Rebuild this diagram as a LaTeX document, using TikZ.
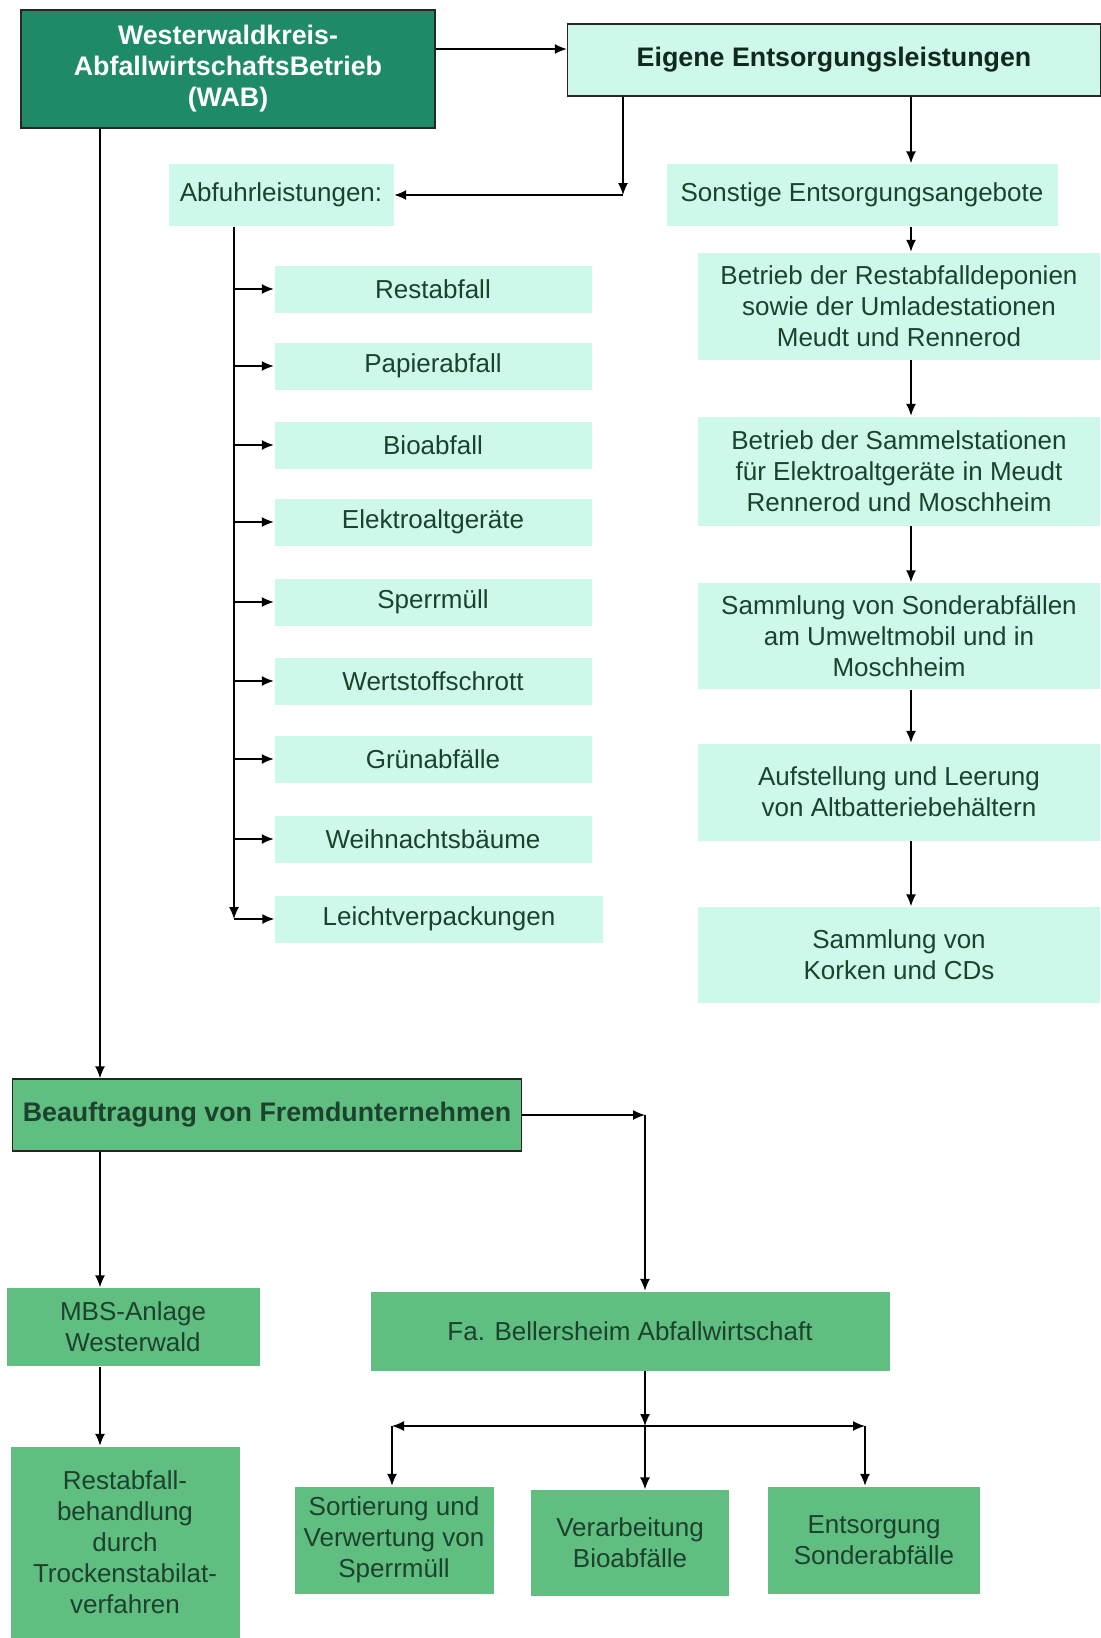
\documentclass[tikz,border=0pt]{standalone}
\usepackage{fontspec}
\setmainfont{Liberation Sans}
\usetikzlibrary{arrows.meta, calc, positioning}
\definecolor{wabGreen}{RGB}{30,138,104}
\definecolor{mintFill}{RGB}{206,248,234}
\definecolor{midGreen}{RGB}{96,190,128}
\definecolor{txtGreen}{RGB}{28,66,46}
\newcommand{\boxfont}{\fontsize{13}{15.5}\selectfont}
\newcommand{\headfont}{\fontsize{13.4}{15.5}\selectfont\bfseries}
\tikzset{
  wabbox/.style={draw=black!85, fill=wabGreen, text=white, font=\headfont,
                 align=center, inner sep=0pt},
  headbox/.style={draw=black!85, fill=mintFill, text=txtGreen!60!black,
                  font=\headfont, align=center, inner sep=0pt},
  mintbox/.style={fill=mintFill, text=txtGreen, font=\boxfont, align=center, inner sep=0pt},
  greenbox/.style={fill=midGreen, text=txtGreen, font=\boxfont, align=center, inner sep=0pt},
  flow/.style={-{Latex[length=6pt, width=5pt]}},
  twoway/.style={{Latex[length=6pt, width=5pt]}-{Latex[length=6pt, width=5pt]}},
}

\begin{document}
\begin{tikzpicture}[x=0.5pt, y=-0.5pt, line width=0.7pt]
  \useasboundingbox (0,0) rectangle (1100,1638);
  % ================= top: WAB and own services =================
  \node[wabbox, minimum width=207pt, minimum height=59pt] (wab) at (228,69)
    {Westerwaldkreis-\\AbfallwirtschaftsBetrieb\\(WAB)};
  \node[headbox, minimum width=266.5pt, minimum height=36pt] (eig) at (834,60)
    {Eigene Entsorgungsleistungen};
  \node[mintbox, minimum width=112.5pt, minimum height=31pt] (abf) at (281,195)
    {Abfuhrleistungen:};
  \node[mintbox, minimum width=195.5pt, minimum height=31pt] (son) at (862,195)
    {Sonstige Entsorgungsangebote};
  \draw[flow] ([yshift=10pt]wab.east) -- ([yshift=5.5pt]eig.west);
  \coordinate (ek) at (623,195);
  \draw[flow] (eig.south -| ek) -- (ek);
  \draw[flow] (ek) -- (abf.east);
  % ================= left column: collection services =================
  \node[mintbox, minimum width=158.5pt, minimum height=23.5pt] (rest)   at (433,289) {Restabfall};
  \node[mintbox, minimum width=158.5pt, minimum height=23.5pt] (pap)    at (433,366) {Papierabfall};
  \node[mintbox, minimum width=158.5pt, minimum height=23.5pt] (bio)    at (433,445) {Bioabfall};
  \node[mintbox, minimum width=158.5pt, minimum height=23.5pt] (elek)   at (433,522) {Elektroaltgeräte};
  \node[mintbox, minimum width=158.5pt, minimum height=23.5pt] (sperr)  at (433,602) {Sperrmüll};
  \node[mintbox, minimum width=158.5pt, minimum height=23.5pt] (wert)   at (433,681) {Wertstoffschrott};
  \node[mintbox, minimum width=158.5pt, minimum height=23.5pt] (gruen)  at (433,759) {Grünabfälle};
  \node[mintbox, minimum width=158.5pt, minimum height=23.5pt] (weih)   at (433,839) {Weihnachtsbäume};
  \node[mintbox, minimum width=164pt, minimum height=23.5pt]   (leicht) at (439,919) {Leichtverpackungen};
  \coordinate (spine) at (234,0);
  \draw[flow] (abf.south -| spine) -- (spine |- leicht.west);
  \draw[flow] (spine |- rest.west)   -- (rest.west);
  \draw[flow] (spine |- pap.west)    -- (pap.west);
  \draw[flow] (spine |- bio.west)    -- (bio.west);
  \draw[flow] (spine |- elek.west)   -- (elek.west);
  \draw[flow] (spine |- sperr.west)  -- (sperr.west);
  \draw[flow] (spine |- wert.west)   -- (wert.west);
  \draw[flow] (spine |- gruen.west)  -- (gruen.west);
  \draw[flow] (spine |- weih.west)   -- (weih.west);
  \draw[flow] (spine |- leicht.west) -- (leicht.west);
  % ================= right column: other offers =================
  \node[mintbox, minimum width=201pt, minimum height=53.5pt] (dep) at (899,306)
    {Betrieb der Restabfalldeponien\\sowie der Umladestationen\\Meudt und Rennerod};
  \node[mintbox, minimum width=201pt, minimum height=54.5pt] (samm) at (899,471)
    {Betrieb der Sammelstationen\\für Elektroaltgeräte in Meudt\\Rennerod und Moschheim};
  \node[mintbox, minimum width=201pt, minimum height=53pt] (sond) at (899,636)
    {Sammlung von Sonderabfällen\\am Umweltmobil und in\\Moschheim};
  \node[mintbox, minimum width=201pt, minimum height=48.5pt] (batt) at (899,792)
    {Aufstellung und Leerung\\von Altbatteriebehältern};
  \node[mintbox, minimum width=201pt, minimum height=48pt] (kork) at (899,955)
    {Sammlung von\\Korken und CDs};
  \coordinate (rcol) at (911,0);
  \draw[flow] (eig.south -| rcol)  -- (son.north -| rcol);
  \draw[flow] (son.south -| rcol)  -- (dep.north -| rcol);
  \draw[flow] (dep.south -| rcol)  -- (samm.north -| rcol);
  \draw[flow] (samm.south -| rcol) -- (sond.north -| rcol);
  \draw[flow] (sond.south -| rcol) -- (batt.north -| rcol);
  \draw[flow] (batt.south -| rcol) -- (kork.north -| rcol);
  % ================= bottom: contractors =================
  \node[greenbox, draw=black!85, font=\headfont, minimum width=254.5pt,
        minimum height=36pt] (beauf) at (267,1115) {Beauftragung von Fremdunternehmen};
  \node[greenbox, minimum width=126.5pt, minimum height=39pt] (mbs) at (133,1327)
    {MBS-Anlage\\Westerwald};
  \node[greenbox, minimum width=259.5pt, minimum height=39.5pt] (bell) at (630,1331)
    {Fa. Bellersheim Abfallwirtschaft};
  \node[greenbox, minimum width=114.5pt, minimum height=95.5pt] (rbeh) at (125,1542)
    {Restabfall-\\behandlung\\durch\\Trockenstabilat-\\verfahren};
  \node[greenbox, minimum width=99.5pt, minimum height=53.5pt] (sort) at (394,1540)
    {Sortierung und\\Verwertung von\\Sperrmüll};
  \node[greenbox, minimum width=99pt, minimum height=53pt] (verarb) at (630,1543)
    {Verarbeitung\\Bioabfälle};
  \node[greenbox, minimum width=106pt, minimum height=53.5pt] (ents) at (874,1540)
    {Entsorgung\\Sonderabfälle};
  \coordinate (lcol) at (100,0);
  \draw[flow] (wab.south -| lcol)   -- (beauf.north -| lcol);
  \draw[flow] (beauf.south -| lcol) -- (mbs.north -| lcol);
  \draw[flow] (mbs.south -| lcol)   -- (rbeh.north -| lcol);
  \coordinate (bk) at (645,1115);
  \draw[flow] (beauf.east) -- (bk);
  \draw[flow] (bk) -- (bell.north -| bk);
  \coordinate (hub)  at (645,1426);
  \coordinate (hubl) at (392,1426);
  \coordinate (hubr) at (865,1426);
  \draw[flow] (bell.south -| hub) -- (hub);
  \draw[twoway] (hubl) -- (hubr);
  \draw[flow] (hubl) -- (sort.north -| hubl);
  \draw[flow] (hub)  -- (verarb.north -| hub);
  \draw[flow] (hubr) -- (ents.north -| hubr);
\end{tikzpicture}
\end{document}
